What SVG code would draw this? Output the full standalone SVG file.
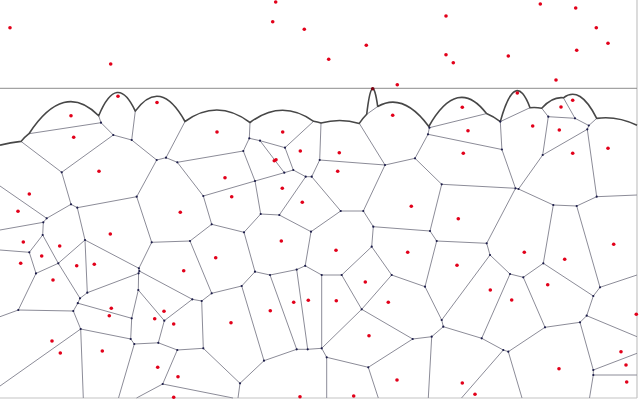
<svg xmlns="http://www.w3.org/2000/svg" width="640" height="405" viewBox="0 0 640 405">
<style>
.bg{fill:#fff}
.border{stroke:#c4c4c4;stroke-width:1.2;fill:none}
.sweep{stroke:#8c8c8c;stroke-width:1;fill:none}
.beach{fill:none;stroke:#474747;stroke-width:1.6;stroke-linejoin:round}
.edge{fill:none;stroke:#8c8c98;stroke-width:1}
.site{fill:#e2001a}
.vert{fill:#1c1c4a}
</style>
<rect class="bg" x="0" y="0" width="640" height="405"/>
<g id="frame">
<line class="border" x1="637" y1="0" x2="637" y2="398"/>
<line class="border" x1="0" y1="398" x2="637" y2="398"/>
<line class="sweep" x1="0" y1="88.3" x2="637" y2="88.3"/>
</g>
<g id="connectors">
<path class="edge" d="M21,141.4L61.7,172.3M29,133.7L101,122.7M98.7,115.8L101,122.7M101,122.7L113.3,135M113.3,135L61.7,172.3M113.3,135L131.7,140M135.3,111.1L131.7,140M131.7,140L156.7,160M185,121.5L166,157.7M166,157.7L156.7,160M166,157.7L177.3,162.3M177.3,162.3L243.3,151M177.3,162.3L203.3,196M250,122.5L249.3,138.3M249.3,138.3L243.3,151M249.3,138.3L260,140.7M260,140.7L284.3,172.7M260,140.7L285,147.7M313.6,121.3L285,147.7M285,147.7L293.3,170M293.3,170L284.3,172.7M293.3,170L305.7,176.7M305.7,176.7L311.7,176.7M311.7,176.7L319.7,160M321,123.1L319.7,160M319.7,160L385,165M311.7,176.7L340.7,211M305.7,176.7L279.3,215M284.3,172.7L255,181M243.3,151L255,181M255,181L203.3,196M255,181L260.7,214M260.7,214L279.3,215M260.7,214L244,232.3M203.3,196L211.7,224.3M211.7,224.3L244,232.3M211.7,224.3L190,241M190,241L211.7,293.3M244,232.3L255,271.7M279.3,215L311,231.7M311,231.7L340.7,211M311,231.7L305.2,265.8"/>
<path class="edge" d="M61.7,172.3L71,204.3M71,204.3L77.3,207.7M77.3,207.7L136.7,196.7M136.7,196.7L156.7,160M136.7,196.7L151.7,242.3M0,186L46.7,218.3M46.7,218.3L71,204.3M46.7,218.3L43.3,222.3M0,230L43.3,222.3M43.3,222.3L42.7,235M42.7,235L29.3,252.3M42.7,235L58.3,263.3M0,250L29.3,252.3M29.3,252.3L36,273.4M77.3,207.7L85,240M85,240L58.3,263.3M85,240L87.3,292.7M85,240L138.9,268.3M151.7,242.3L138.9,268.3M151.7,242.3L190,241M138.9,268.3L139.3,271M139.3,271L192.3,299.3M139.3,271L138.6,273.3M138.6,273.3L87.3,292.7M138.6,273.3L138.3,290"/>
<path class="edge" d="M36,273.4L58.3,263.3M36,273.4L18.3,310M18.3,310L0,316.7M18.3,310L73.3,311M73.3,311L77.8,303.2M73.3,311L80.7,329M77.8,303.2L80,298.3M77.8,303.2L131.7,318.3M80,298.3L58.3,263.3M80,298.3L87.3,292.7M138.3,290L131.7,318.3M138.3,290L164.3,320.7M131.7,318.3L130.7,339M130.7,339L80.7,329M130.7,339L134.3,344M134.3,344L158.3,342.8M134.3,344L118.5,398M80.7,329L83.3,398M80.7,329L0,386M164.3,320.7L192.3,299.3M164.3,320.7L158.3,342.8M158.3,342.8L177.3,350M177.3,350L203.3,348.3M177.3,350L162.7,384M162.7,384L136.5,398M162.7,384L233,398M192.3,299.3L201.7,301M201.7,301L203.3,348.3M201.7,301L211.7,293.3M211.7,293.3L241.7,286M241.7,286L255,271.7M241.7,286L264,360.7M255,271.7L270,275M270,275L296.7,269.6M270,275L296.7,349.3M296.7,269.6L305.2,265.8M296.7,269.6L307.7,349.3M296.7,349.3L307.7,349.3M264,360.7L296.7,349.3M264,360.7L240,383.3M240,383.3L203.3,348.3M240,383.3L238,398M307.7,349.3L321.7,348.3M305.2,265.8L321.7,275"/>
<path class="edge" d="M359.3,123.4L385,165M385,165L415,158.3M415,158.3L428,134.3M428,134.3L429.4,127.7M428.8,126.5L429.4,127.7M429.4,127.7L486.5,113.6M428,134.3L501.9,149.5M500.3,121.6L501.9,149.5M500.3,121.6L530,107.7M501.9,149.5L515.5,188.3M415,158.3L441.7,184.3M441.7,184.3L515.5,188.3M441.7,184.3L430,231M430,231L436.7,241M430,231L373.3,226.7M436.7,241L486.7,243.3M436.7,241L425,286.7M385,165L363.3,211M363.3,211L340.7,211M363.3,211L373.3,226.7M373.3,226.7L371.7,246.7M371.7,246.7L341.7,275M371.7,246.7L391.7,275M321.7,275L341.7,275M321.7,275L321.7,348.3M341.7,275L361.7,309.3M391.7,275L361.7,309.3M391.7,275L425,286.7M425,286.7L441.7,320M441.7,320L443.3,326.7M441.7,320L490,255M443.3,326.7L481.7,338.3M443.3,326.7L431.7,336.7M431.7,336.7L412.7,339M431.7,336.7L428.3,398M412.7,339L361.7,309.3M412.7,339L368.3,367.3M361.7,309.3L321.7,348.3M321.7,348.3L326.7,357.3M326.7,357.3L368.3,367.3M326.7,357.3L326.7,398M368.3,367.3L378.3,398M366.7,114.3L377.7,106.5"/>
<path class="edge" d="M541.7,108.2L548.3,116.7M563.4,97.8L575,118.3M575,118.3L548.3,116.7M575,118.3L588.8,125.5M596.7,118.4L588.8,125.5M588.8,125.5L587.3,129.3M587.3,129.3L542.7,155M587.3,129.3L596.7,196.7M548.3,116.7L542.7,155M542.7,155L518.5,189M515.5,188.3L518.5,189M518.5,189L553.3,205M515.5,188.3L486.7,243.3M553.3,205L576.7,206M553.3,205L543.3,263.3M576.7,206L596.7,196.7M596.7,196.7L637,195M576.7,206L600,287.3M486.7,243.3L490,255M490,255L510,274M510,274L523.3,277.3M510,274L481.7,338.3M523.3,277.3L543.3,263.3M523.3,277.3L545,327.3M543.3,263.3L593.3,296M545,327.3L580,322.3M545,327.3L508.3,351.7M508.3,351.7L503.3,350M503.3,350L481.7,338.3M503.3,350L461.5,398M508.3,351.7L522,398M580,322.3L586.7,315.7M586.7,315.7L593.3,296M593.3,296L600,287.3M600,287.3L637,275M586.7,315.7L637,336.7M580,322.3L593.3,370M593.3,370L637,353.3M593.3,370L593.3,375M593.3,375L637,375M593.3,375L589.5,398"/>
</g>
<g id="beachline">
<path class="beach" d="M0,145.2Q10.5,142.3 21,141.4Q25,136.8 29,133.7Q63.85,80.3 98.7,115.8Q117,71.7 135.3,111.1Q160.15,76.8 185,121.5Q217.5,98.1 250,122.5Q281.8,98.6 313.6,121.3Q317.3,122.1 321,123.1Q340.15,117.66 359.3,123.4Q363,118 366.7,114.3Q372.2,67.2 377.7,106.5Q403.25,91.8 428.8,126.5Q457.65,75.6 486.5,113.6Q493.4,116.5 500.3,121.6Q515.15,67.7 530,107.7Q535.85,107.1 541.7,108.2Q552.55,96.4 563.4,97.8Q580.05,84.9 596.7,118.4Q616.85,115.6 637,125.3"/>
</g>
<g id="vertices">
<circle class="vert" cx="61.7" cy="172.3" r="1.1"/><circle class="vert" cx="101" cy="122.7" r="1.1"/><circle class="vert" cx="113.3" cy="135" r="1.1"/><circle class="vert" cx="131.7" cy="140" r="1.1"/><circle class="vert" cx="156.7" cy="160" r="1.1"/><circle class="vert" cx="166" cy="157.7" r="1.1"/><circle class="vert" cx="177.3" cy="162.3" r="1.1"/><circle class="vert" cx="243.3" cy="151" r="1.1"/><circle class="vert" cx="249.3" cy="138.3" r="1.1"/><circle class="vert" cx="260" cy="140.7" r="1.1"/><circle class="vert" cx="285" cy="147.7" r="1.1"/><circle class="vert" cx="293.3" cy="170" r="1.1"/><circle class="vert" cx="284.3" cy="172.7" r="1.1"/><circle class="vert" cx="305.7" cy="176.7" r="1.1"/><circle class="vert" cx="311.7" cy="176.7" r="1.1"/><circle class="vert" cx="319.7" cy="160" r="1.1"/><circle class="vert" cx="255" cy="181" r="1.1"/><circle class="vert" cx="203.3" cy="196" r="1.1"/><circle class="vert" cx="260.7" cy="214" r="1.1"/><circle class="vert" cx="279.3" cy="215" r="1.1"/><circle class="vert" cx="244" cy="232.3" r="1.1"/><circle class="vert" cx="211.7" cy="224.3" r="1.1"/><circle class="vert" cx="190" cy="241" r="1.1"/><circle class="vert" cx="311" cy="231.7" r="1.1"/><circle class="vert" cx="340.7" cy="211" r="1.1"/><circle class="vert" cx="305.2" cy="265.8" r="1.1"/>
<circle class="vert" cx="71" cy="204.3" r="1.1"/><circle class="vert" cx="77.3" cy="207.7" r="1.1"/><circle class="vert" cx="136.7" cy="196.7" r="1.1"/><circle class="vert" cx="151.7" cy="242.3" r="1.1"/><circle class="vert" cx="46.7" cy="218.3" r="1.1"/><circle class="vert" cx="43.3" cy="222.3" r="1.1"/><circle class="vert" cx="42.7" cy="235" r="1.1"/><circle class="vert" cx="29.3" cy="252.3" r="1.1"/><circle class="vert" cx="58.3" cy="263.3" r="1.1"/><circle class="vert" cx="85" cy="240" r="1.1"/><circle class="vert" cx="138.9" cy="268.3" r="1.1"/><circle class="vert" cx="139.3" cy="271" r="1.1"/><circle class="vert" cx="138.6" cy="273.3" r="1.1"/><circle class="vert" cx="87.3" cy="292.7" r="1.1"/><circle class="vert" cx="36" cy="273.4" r="1.1"/><circle class="vert" cx="18.3" cy="310" r="1.1"/><circle class="vert" cx="73.3" cy="311" r="1.1"/><circle class="vert" cx="77.8" cy="303.2" r="1.1"/><circle class="vert" cx="80" cy="298.3" r="1.1"/><circle class="vert" cx="80.7" cy="329" r="1.1"/><circle class="vert" cx="138.3" cy="290" r="1.1"/><circle class="vert" cx="131.7" cy="318.3" r="1.1"/><circle class="vert" cx="130.7" cy="339" r="1.1"/><circle class="vert" cx="134.3" cy="344" r="1.1"/><circle class="vert" cx="158.3" cy="342.8" r="1.1"/><circle class="vert" cx="164.3" cy="320.7" r="1.1"/><circle class="vert" cx="177.3" cy="350" r="1.1"/><circle class="vert" cx="162.7" cy="384" r="1.1"/><circle class="vert" cx="192.3" cy="299.3" r="1.1"/><circle class="vert" cx="201.7" cy="301" r="1.1"/><circle class="vert" cx="203.3" cy="348.3" r="1.1"/><circle class="vert" cx="211.7" cy="293.3" r="1.1"/><circle class="vert" cx="241.7" cy="286" r="1.1"/><circle class="vert" cx="255" cy="271.7" r="1.1"/><circle class="vert" cx="270" cy="275" r="1.1"/><circle class="vert" cx="296.7" cy="269.6" r="1.1"/><circle class="vert" cx="296.7" cy="349.3" r="1.1"/><circle class="vert" cx="307.7" cy="349.3" r="1.1"/><circle class="vert" cx="264" cy="360.7" r="1.1"/><circle class="vert" cx="240" cy="383.3" r="1.1"/>
<circle class="vert" cx="385" cy="165" r="1.1"/><circle class="vert" cx="415" cy="158.3" r="1.1"/><circle class="vert" cx="428" cy="134.3" r="1.1"/><circle class="vert" cx="429.4" cy="127.7" r="1.1"/><circle class="vert" cx="501.9" cy="149.5" r="1.1"/><circle class="vert" cx="500.3" cy="121.6" r="1.1"/><circle class="vert" cx="441.7" cy="184.3" r="1.1"/><circle class="vert" cx="430" cy="231" r="1.1"/><circle class="vert" cx="436.7" cy="241" r="1.1"/><circle class="vert" cx="363.3" cy="211" r="1.1"/><circle class="vert" cx="373.3" cy="226.7" r="1.1"/><circle class="vert" cx="371.7" cy="246.7" r="1.1"/><circle class="vert" cx="321.7" cy="275" r="1.1"/><circle class="vert" cx="341.7" cy="275" r="1.1"/><circle class="vert" cx="391.7" cy="275" r="1.1"/><circle class="vert" cx="361.7" cy="309.3" r="1.1"/><circle class="vert" cx="425" cy="286.7" r="1.1"/><circle class="vert" cx="441.7" cy="320" r="1.1"/><circle class="vert" cx="443.3" cy="326.7" r="1.1"/><circle class="vert" cx="431.7" cy="336.7" r="1.1"/><circle class="vert" cx="412.7" cy="339" r="1.1"/><circle class="vert" cx="321.7" cy="348.3" r="1.1"/><circle class="vert" cx="326.7" cy="357.3" r="1.1"/><circle class="vert" cx="368.3" cy="367.3" r="1.1"/>
<circle class="vert" cx="548.3" cy="116.7" r="1.1"/><circle class="vert" cx="575" cy="118.3" r="1.1"/><circle class="vert" cx="588.8" cy="125.5" r="1.1"/><circle class="vert" cx="587.3" cy="129.3" r="1.1"/><circle class="vert" cx="542.7" cy="155" r="1.1"/><circle class="vert" cx="515.5" cy="188.3" r="1.1"/><circle class="vert" cx="518.5" cy="189" r="1.1"/><circle class="vert" cx="553.3" cy="205" r="1.1"/><circle class="vert" cx="576.7" cy="206" r="1.1"/><circle class="vert" cx="596.7" cy="196.7" r="1.1"/><circle class="vert" cx="486.7" cy="243.3" r="1.1"/><circle class="vert" cx="490" cy="255" r="1.1"/><circle class="vert" cx="510" cy="274" r="1.1"/><circle class="vert" cx="523.3" cy="277.3" r="1.1"/><circle class="vert" cx="543.3" cy="263.3" r="1.1"/><circle class="vert" cx="545" cy="327.3" r="1.1"/><circle class="vert" cx="508.3" cy="351.7" r="1.1"/><circle class="vert" cx="503.3" cy="350" r="1.1"/><circle class="vert" cx="481.7" cy="338.3" r="1.1"/><circle class="vert" cx="580" cy="322.3" r="1.1"/><circle class="vert" cx="586.7" cy="315.7" r="1.1"/><circle class="vert" cx="593.3" cy="296" r="1.1"/><circle class="vert" cx="600" cy="287.3" r="1.1"/><circle class="vert" cx="593.3" cy="370" r="1.1"/><circle class="vert" cx="593.3" cy="375" r="1.1"/>
</g>
<g id="sites">
<circle class="site" cx="10" cy="27.7" r="1.8"/><circle class="site" cx="110.7" cy="64" r="1.8"/><circle class="site" cx="275.7" cy="2" r="1.8"/><circle class="site" cx="272.7" cy="21.7" r="1.8"/><circle class="site" cx="304.3" cy="29.3" r="1.8"/><circle class="site" cx="446" cy="16" r="1.8"/><circle class="site" cx="366.3" cy="45.3" r="1.8"/><circle class="site" cx="328.7" cy="59.3" r="1.8"/><circle class="site" cx="446" cy="54.7" r="1.8"/><circle class="site" cx="453.3" cy="62.7" r="1.8"/><circle class="site" cx="397.3" cy="84.7" r="1.8"/><circle class="site" cx="540.3" cy="4" r="1.8"/><circle class="site" cx="575.7" cy="8" r="1.8"/><circle class="site" cx="596.3" cy="27.7" r="1.8"/><circle class="site" cx="608" cy="43.3" r="1.8"/><circle class="site" cx="576.7" cy="50.3" r="1.8"/><circle class="site" cx="508.3" cy="56" r="1.8"/><circle class="site" cx="556" cy="80" r="1.8"/>
<circle class="site" cx="372.7" cy="88.8" r="1.8" style="fill:#7a0010"/>
<circle class="site" cx="118" cy="96.3" r="1.8"/><circle class="site" cx="157" cy="102.5" r="1.8"/><circle class="site" cx="71" cy="115.7" r="1.8"/><circle class="site" cx="217" cy="132" r="1.8"/><circle class="site" cx="282.7" cy="132" r="1.8"/><circle class="site" cx="392.7" cy="115.3" r="1.8"/><circle class="site" cx="462.3" cy="107.3" r="1.8"/><circle class="site" cx="468" cy="130.7" r="1.8"/><circle class="site" cx="517.3" cy="93" r="1.8"/><circle class="site" cx="572.7" cy="100.3" r="1.8"/><circle class="site" cx="561" cy="107" r="1.8"/><circle class="site" cx="532.7" cy="126" r="1.8"/><circle class="site" cx="559.3" cy="130" r="1.8"/>
<circle class="site" cx="73.7" cy="137.3" r="1.8"/><circle class="site" cx="99" cy="171.3" r="1.8"/><circle class="site" cx="29.3" cy="194" r="1.8"/><circle class="site" cx="18" cy="211.3" r="1.8"/><circle class="site" cx="110.3" cy="234" r="1.8"/><circle class="site" cx="23.3" cy="242" r="1.8"/><circle class="site" cx="59.7" cy="246" r="1.8"/><circle class="site" cx="41.7" cy="256" r="1.8"/><circle class="site" cx="20.7" cy="263.3" r="1.8"/><circle class="site" cx="76.7" cy="265.7" r="1.8"/><circle class="site" cx="94.3" cy="264.3" r="1.8"/>
<circle class="site" cx="300.3" cy="151" r="1.8"/><circle class="site" cx="274.3" cy="160.7" r="1.8"/><circle class="site" cx="276" cy="159.7" r="1.8"/><circle class="site" cx="225" cy="177.7" r="1.8"/><circle class="site" cx="282.3" cy="188.3" r="1.8"/><circle class="site" cx="231.7" cy="196.7" r="1.8"/><circle class="site" cx="302.3" cy="202.3" r="1.8"/><circle class="site" cx="180.3" cy="212.3" r="1.8"/><circle class="site" cx="281.3" cy="241" r="1.8"/><circle class="site" cx="215.7" cy="257.7" r="1.8"/><circle class="site" cx="183.7" cy="270.7" r="1.8"/>
<circle class="site" cx="339.3" cy="152.7" r="1.8"/><circle class="site" cx="463.3" cy="153.3" r="1.8"/><circle class="site" cx="337.7" cy="171.3" r="1.8"/><circle class="site" cx="411.3" cy="206.3" r="1.8"/><circle class="site" cx="458.3" cy="218.7" r="1.8"/><circle class="site" cx="336" cy="250.3" r="1.8"/><circle class="site" cx="407.7" cy="252.3" r="1.8"/><circle class="site" cx="457" cy="265.3" r="1.8"/>
<circle class="site" cx="572.7" cy="153.3" r="1.8"/><circle class="site" cx="608" cy="148.3" r="1.8"/><circle class="site" cx="524.3" cy="252.3" r="1.8"/><circle class="site" cx="613.7" cy="244.3" r="1.8"/><circle class="site" cx="564.7" cy="259.3" r="1.8"/>
<circle class="site" cx="53" cy="280" r="1.8"/><circle class="site" cx="111.3" cy="308.3" r="1.8"/><circle class="site" cx="109.3" cy="315.7" r="1.8"/><circle class="site" cx="154.7" cy="318.7" r="1.8"/><circle class="site" cx="52" cy="341" r="1.8"/><circle class="site" cx="60.3" cy="353" r="1.8"/><circle class="site" cx="102.3" cy="351" r="1.8"/><circle class="site" cx="157.7" cy="367.3" r="1.8"/>
<circle class="site" cx="164" cy="311.3" r="1.8"/><circle class="site" cx="173.7" cy="324" r="1.8"/><circle class="site" cx="231" cy="322.7" r="1.8"/><circle class="site" cx="270.3" cy="310.7" r="1.8"/><circle class="site" cx="293.7" cy="302.3" r="1.8"/><circle class="site" cx="308.3" cy="300.3" r="1.8"/><circle class="site" cx="178" cy="376.7" r="1.8"/><circle class="site" cx="173.7" cy="397.3" r="1.8"/><circle class="site" cx="300" cy="396.7" r="1.8"/>
<circle class="site" cx="365.3" cy="282" r="1.8"/><circle class="site" cx="336.3" cy="300.7" r="1.8"/><circle class="site" cx="388.3" cy="302.3" r="1.8"/><circle class="site" cx="369" cy="335.7" r="1.8"/><circle class="site" cx="397" cy="380" r="1.8"/><circle class="site" cx="353.7" cy="396" r="1.8"/><circle class="site" cx="462.3" cy="383" r="1.8"/><circle class="site" cx="475" cy="394.3" r="1.8"/>
<circle class="site" cx="490.3" cy="290" r="1.8"/><circle class="site" cx="511.7" cy="300" r="1.8"/><circle class="site" cx="547.7" cy="284.7" r="1.8"/><circle class="site" cx="636.3" cy="314.3" r="1.8"/><circle class="site" cx="621" cy="351.7" r="1.8"/><circle class="site" cx="626" cy="365" r="1.8"/><circle class="site" cx="559" cy="368.7" r="1.8"/><circle class="site" cx="626.7" cy="382" r="1.8"/>
</g>
</svg>
